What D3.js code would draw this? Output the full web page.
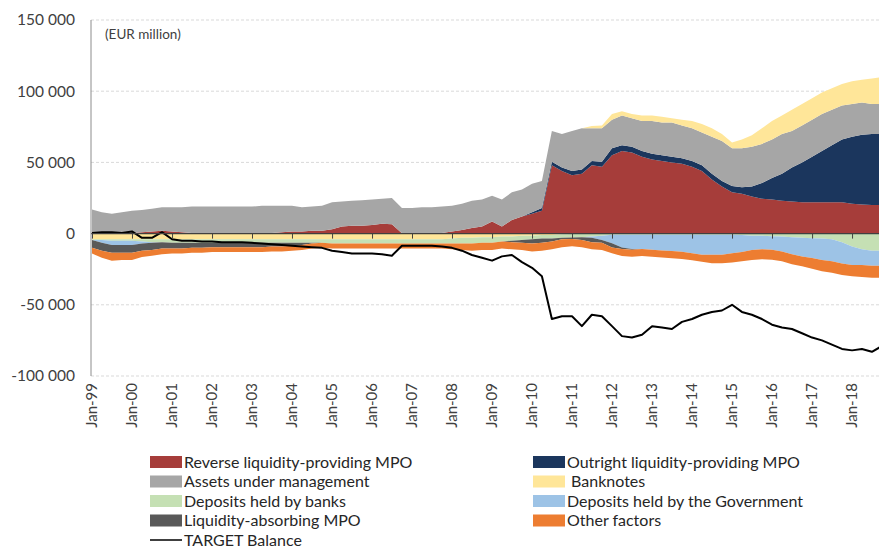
<!DOCTYPE html>
<html>
<head>
<meta charset="utf-8">
<script src="https://cdn.jsdelivr.net/npm/d3@7"></script>
<style>
  body { margin: 0; background: #fff; }
  svg { display: block; font-family: Lato, 'Open Sans', sans-serif; }
</style>
</head>
<body>
<div id="chart"></div>
<script>
// quarterly observations, Jan-99 .. Oct-18 (EUR million, in thousands)
const quarters = d3.timeMonth.every(3).range(new Date(1999, 0, 1), new Date(2018, 10, 1));

const reverseMpo = [
  0.5, 0.5, 0.5, 0.5, 0.5, 1.0, 1.5, 2.0, 1.5, 1.0, 0.5, 0.5, 0.5, 0.5, 0.5, 0.5,
  0.5, 0.5, 0.5, 1.0, 1.5, 1.5, 2.0, 2.0, 3.0, 5.0, 5.5, 5.5, 6.0, 7.0, 6.5, 0.3,
  0.3, 0.3, 0.3, 0.5, 1.5, 2.5, 4.0, 5.0, 8.5, 5.0, 9.5, 12.0, 14.0, 16.0, 48.0, 44.0,
  41.0, 42.0, 48.0, 47.0, 55.0, 58.0, 57.0, 54.0, 52.0, 51.0, 50.0, 49.0, 47.0, 44.0, 38.0, 33.0,
  29.0, 28.0, 26.0, 24.5, 24.0, 23.0, 22.5, 22.0, 22.0, 22.0, 22.0, 22.0, 21.0, 20.5, 20.0, 20.0
];
const outrightMpo = [
  0, 0, 0, 0, 0, 0, 0, 0, 0, 0, 0, 0, 0, 0, 0, 0,
  0, 0, 0, 0, 0, 0, 0, 0, 0, 0, 0, 0, 0, 0, 0, 0,
  0, 0, 0, 0, 0, 0, 0, 0, 0, 0, 0, 0, 1, 2, 2.5, 2.5,
  3, 3, 3, 3.5, 5, 4, 4, 4, 4, 4, 4, 4, 4, 4, 4, 4,
  4.5, 4.5, 7, 11, 15, 19, 24, 28, 32, 36, 40, 44, 47, 49, 50, 50
];
const assetsManaged = [
  16.5, 14.5, 13.5, 14.5, 15.5, 15.5, 16, 16.5, 17, 17.5, 18.5, 18.5, 18.5, 18.5, 18.5, 18.5,
  18.5, 19, 19, 18.5, 18, 17, 17, 17.5, 19, 17.5, 17.5, 18, 18, 17.5, 18.5, 17.7,
  17.7, 18.2, 18.2, 18.5, 18, 18.5, 19, 19, 18, 19, 19.5, 19, 20, 19, 21.5, 23.5,
  28, 29, 23, 23.5, 20, 21, 20, 21, 23, 23, 24, 23, 23, 23, 26, 28,
  26.5, 27.5, 28, 27.5, 27, 28, 25.5, 26, 26, 26, 25, 24, 23, 22.5, 21, 21
];
const banknotes = [
  -4, -4, -4, -4, -4, -4, -4, -4, -4, -4, -4, -4, -4, -4, -4, -4,
  -4, -4, -4, -4, -4, -4, -4, -4, -4, -4, -4, -4, -4, -4, -4, -4,
  -4, -4, -4, -4, -3.5, -3, -3, -2.5, -2.5, -2, -2, -1.5, -1.5, -1, -1, -0.5,
  -0.3, 0, 1.5, 2, 4, 3, 3, 4, 4, 4, 3, 4, 5, 6, 6, 5,
  4, 6, 8, 11, 13, 13, 15, 15, 15, 15, 15, 15, 16, 16, 18, 19
];
const depositsBanks = [
  -0.5, -0.5, -1, -1, -1, -1.5, -2, -2, -2.5, -2.5, -2.5, -2.5, -2.5, -2.5, -2.5, -2.5,
  -2.5, -2.5, -2.5, -2.5, -2.5, -2.5, -2.5, -2.5, -3, -3, -3, -3, -3, -3, -3, -3,
  -3, -3, -3, -3, -3.5, -4, -4, -4, -4, -3.5, -3, -3, -2.5, -2.5, -2.5, -2.5,
  -2.5, -2.5, -2, -1.5, -0.8, -0.8, -0.8, -0.8, -0.8, -0.8, -0.8, -0.8, -0.8, -0.8, -0.8, -0.8,
  -0.8, -1, -1.5, -1.5, -1.8, -2, -2.5, -3, -3.2, -3.5, -4, -6, -9, -11, -12, -12
];
const depositsGov = [
  0, -2, -3, -3, -3, -1.5, -0.5, 0, 0, 0, 0, 0, 0, 0, 0, 0,
  0, 0, 0, 0, 0, 0, 0, 0, 0, 0, 0, 0, 0, 0, 0, 0,
  0, 0, 0, 0, 0, 0, 0, 0, 0, 0, 0, 0, 0, 0, 0, 0,
  0, 0, -1, -3, -6, -9, -10, -10, -10.5, -11, -11.5, -12, -13, -14, -14, -14,
  -13, -12, -10, -9.5, -9.5, -10.5, -12, -13, -14, -15, -15.5, -15, -13, -11, -10.5, -10.5
];
const absorbingMpo = [
  -5.5, -5.5, -5.5, -5.5, -5.5, -5, -5, -4.5, -4, -4, -3.5, -3.5, -3, -3, -3, -3,
  -3, -3, -2.5, -2.5, -2, -1.5, -0.5, 0, 0, 0, 0, 0, 0, 0, 0, 0,
  0, 0, 0, 0, 0, 0, 0, 0, 0, 0, -1, -2, -3, -3, -2, -1,
  -1, -2, -3, -2, -3, -1, -0.5, 0, 0, 0, 0, 0, 0, 0, 0, 0,
  0, 0, 0, 0, 0, 0, 0, 0, 0, 0, 0, 0, 0, 0, 0, 0
];
const otherFactors = [
  -4, -5, -5.5, -5, -5, -4.5, -4, -4, -3.5, -3.5, -3.5, -3.5, -3.5, -3.5, -3.5, -3.5,
  -3.5, -3.5, -3.5, -3.5, -3.5, -3.5, -3.5, -3.5, -3.5, -3.5, -3.5, -3.5, -3.5, -3.5, -3.5, -3.5,
  -3.5, -3.5, -3.5, -3.5, -4, -4.5, -5, -5, -5, -5, -5, -5, -5.5, -5.5, -5.5, -5.5,
  -5, -5, -5, -5, -4, -5, -5, -5, -5, -5, -5, -5, -5, -5, -6, -6,
  -6.5, -6.5, -7, -7, -7, -7, -7, -7, -7.5, -8, -8, -8, -8, -8.5, -8.5, -8.5
];
const targetBalance = [
  0.5, 1, 1, 0.5, 1.5, -3, -3, 1, -4, -5, -5, -5.5, -5.5, -6, -6, -6,
  -6.5, -7, -7.5, -8, -8.5, -9, -9.5, -10, -12, -13, -14, -14, -14, -14.5, -15.5, -8.5,
  -8.5, -8.5, -8.5, -9, -10, -12, -15, -17, -19, -16, -15, -20, -24, -30, -60, -58,
  -58, -65, -57, -58, -65, -72, -73, -71, -65, -66, -67, -62, -60, -57, -55, -54,
  -50, -55, -57, -60, -64, -66, -67, -70, -73, -75, -78, -81, -82, -81, -83, -79
];

const yTicks = [-100000, -50000, 0, 50000, 100000, 150000];

const series = [
  { key: 'reverse', name: 'Reverse liquidity-providing MPO', values: reverseMpo, color: '#a63d3a' },
  { key: 'outright', name: 'Outright liquidity-providing MPO', values: outrightMpo, color: '#1b365d' },
  { key: 'assets', name: 'Assets under management', values: assetsManaged, color: '#a6a6a6' },
  { key: 'banknotes', name: ' Banknotes', values: banknotes, color: '#ffe699' },
  { key: 'banks', name: 'Deposits held by banks', values: depositsBanks, color: '#c5e0b4' },
  { key: 'gov', name: 'Deposits held by the Government', values: depositsGov, color: '#9dc3e6' },
  { key: 'absorbing', name: 'Liquidity-absorbing MPO', values: absorbingMpo, color: '#595959' },
  { key: 'other', name: 'Other factors', values: otherFactors, color: '#ed7d31' },
];

const width = 879;
const height = 549;
const plotLeft = 91;
const plotRight = 879;
const plotTop = 20;
const plotBottom = 376;

const fmt = d3.formatLocale({ decimal: '.', thousands: '\u00a0', grouping: [3], currency: ['', ''], minus: '-' }).format(',');

const svg = d3.select('#chart').append('svg')
  .attr('width', width)
  .attr('height', height);

const x = d3.scaleTime()
  .domain([new Date(1999, 0, 1), new Date(2018, 8, 4)])
  .range([plotLeft + 1, plotRight]);
const y = d3.scaleLinear().domain([-100000, 150000]).range([plotBottom, plotTop]);

// grid
svg.append('g')
  .selectAll('line')
  .data(yTicks.filter((t) => t !== 0))
  .enter().append('line')
  .attr('x1', plotLeft)
  .attr('x2', plotRight)
  .attr('y1', (d) => y(d))
  .attr('y2', (d) => y(d))
  .style('stroke', '#d9d9d9')
  .style('stroke-dasharray', '3,2');

svg.append('defs').append('clipPath').attr('id', 'plot')
  .append('rect')
  .attr('x', plotLeft)
  .attr('y', plotTop)
  .attr('width', plotRight - plotLeft)
  .attr('height', plotBottom - plotTop);

// stacked areas: positive and negative parts stacked separately
const rows = quarters.map((d, i) => {
  const row = { date: d };
  series.forEach((s) => { row[s.key] = s.values[i] * 1000; });
  return row;
});

const keys = series.map((s) => s.key);
const stackPos = d3.stack().keys(keys).value((d, k) => Math.max(0, d[k]))(rows);
const stackNeg = d3.stack().keys(keys).value((d, k) => Math.min(0, d[k]))(rows);

const area = d3.area()
  .x((d) => x(d.data.date))
  .y0((d) => y(d[0]))
  .y1((d) => y(d[1]));

const plot = svg.append('g').attr('clip-path', 'url(#plot)');

[stackPos, stackNeg].forEach((stack) => {
  plot.append('g')
    .selectAll('path')
    .data(stack)
    .enter().append('path')
    .attr('d', area)
    .style('fill', (d, i) => series[i].color);
});

// zero axis with ticks
const xAxis = d3.axisBottom(x)
  .ticks(d3.timeYear.every(1))
  .tickSize(5)
  .tickFormat('');

svg.append('g')
  .attr('class', 'x-zero')
  .attr('transform', `translate(0,${y(0)})`)
  .call(xAxis)
  .call((g) => g.select('.domain').remove())
  .call((g) => g.selectAll('line').style('stroke', '#404040'));

svg.append('line')
  .attr('x1', plotLeft)
  .attr('x2', plotRight)
  .attr('y1', y(0))
  .attr('y2', y(0))
  .style('stroke', '#404040')
  .style('stroke-width', 1.2);

// TARGET balance
const line = d3.line()
  .x((d, i) => x(quarters[i]))
  .y((d) => y(d * 1000));

plot.append('path')
  .datum(targetBalance)
  .attr('d', line)
  .style('fill', 'none')
  .style('stroke', '#000')
  .style('stroke-width', 2)
  .style('stroke-linejoin', 'round');

// y axis
svg.append('line')
  .attr('x1', plotLeft)
  .attr('x2', plotLeft)
  .attr('y1', plotTop)
  .attr('y2', plotBottom)
  .style('stroke', '#8c8c8c');

svg.append('g')
  .selectAll('text')
  .data(yTicks)
  .enter().append('text')
  .attr('x', 75)
  .attr('y', (d) => y(d))
  .attr('dy', '0.35em')
  .style('text-anchor', 'end')
  .style('font-size', '15.5px')
  .style('fill', '#404040')
  .text((d) => fmt(d));

// x labels
const yearTicks = x.ticks(d3.timeYear.every(1));
svg.append('g')
  .selectAll('text')
  .data(yearTicks)
  .enter().append('text')
  .attr('transform', (d) => `translate(${x(d)},${plotBottom + 7}) rotate(-90)`)
  .attr('dy', '0.35em')
  .style('text-anchor', 'end')
  .style('font-size', '15px')
  .style('fill', '#404040')
  .text(d3.timeFormat('%b-%y'));

svg.append('text')
  .attr('x', 105)
  .attr('y', 39)
  .style('font-size', '13.5px')
  .style('fill', '#404040')
  .text('(EUR million)');

// legend
const legend = svg.append('g').attr('class', 'legend');
const rowGap = 19.5;

series.forEach((s, i) => {
  const col = i % 2;
  const row = Math.floor(i / 2);
  const gx = col === 0 ? 150 : 533;
  const gy = 462 + row * rowGap;
  legend.append('rect')
    .attr('x', gx)
    .attr('y', gy - 6)
    .attr('width', 32)
    .attr('height', 12)
    .style('fill', s.color);
  legend.append('text')
    .attr('x', gx + 34)
    .attr('y', gy)
    .attr('dy', '0.35em')
    .style('font-size', '16px')
    .style('fill', '#262626')
    .style('white-space', 'pre')
    .text(s.name);
});

const ly = 462 + 4 * rowGap;
legend.append('line')
  .attr('x1', 150)
  .attr('x2', 182)
  .attr('y1', ly)
  .attr('y2', ly)
  .style('stroke', '#000')
  .style('stroke-width', 1.5);
legend.append('text')
  .attr('x', 184)
  .attr('y', ly)
  .attr('dy', '0.35em')
  .style('font-size', '16px')
  .style('fill', '#262626')
  .text('TARGET Balance');
</script>
</body>
</html>
